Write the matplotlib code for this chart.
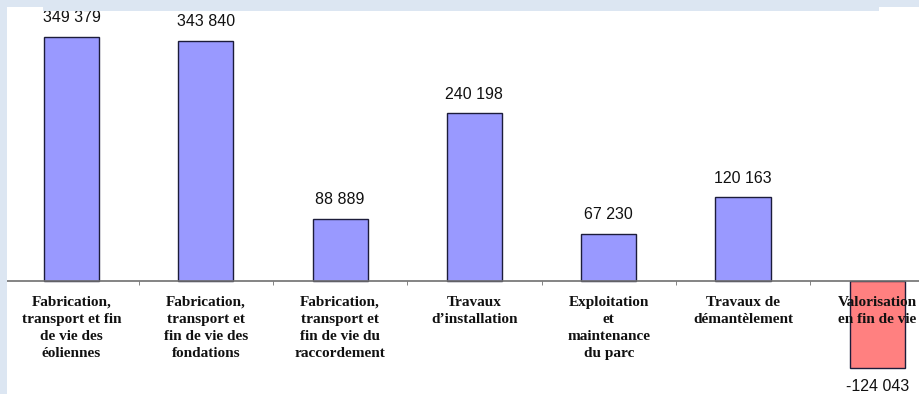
import matplotlib.pyplot as plt
from matplotlib.patches import Rectangle
from matplotlib.ticker import FixedLocator

categories = [
    "Fabrication,\ntransport et fin\nde vie des\néoliennes",
    "Fabrication,\ntransport et\nfin de vie des\nfondations",
    "Fabrication,\ntransport et\nfin de vie du\nraccordement",
    "Travaux\nd\u2019installation",
    "Exploitation\net\nmaintenance\ndu parc",
    "Travaux de\ndémantèlement",
    "Valorisation\nen fin de vie",
]
values = [349379, 343840, 88889, 240198, 67230, 120163, -124043]
value_labels = ["349 379", "343 840", "88 889", "240 198", "67 230", "120 163", "-124 043"]

W, H = 919, 394
fig = plt.figure(figsize=(W / 100, H / 100), dpi=100, facecolor="white")

# layout in pixels: zero line at y=281, 1432 units per pixel, category step 134.3 px
zero_px = 281
per_px = 1432
step = 134.3
x0 = 71.5
left_px = x0 - step / 2
ax = fig.add_axes([left_px / W, 0, 7 * step / W, 1])
ax.set_facecolor("none")
ax.set_xlim(-0.5, 6.5)
ax.set_ylim(-(H - zero_px) * per_px, zero_px * per_px)

colors = ["#9999ff"] * 6 + ["#ff8080"]
pos = list(range(len(values)))
ax.bar(pos, values, width=0.41, color=colors, edgecolor="#1c1c3a", linewidth=1.0, zorder=1)

for x, v, lab in zip(pos, values, value_labels):
    if v >= 0:
        ax.annotate(lab, (x, v), xytext=(0, 10.5), textcoords="offset points",
                    ha="center", va="baseline", fontsize=11.5,
                    family="Liberation Sans", color="#111111")
    else:
        ax.annotate(lab, (x, v), xytext=(0, -8), textcoords="offset points",
                    ha="center", va="top", fontsize=11.5,
                    family="Liberation Sans", color="#111111")

for s in ["top", "right", "left"]:
    ax.spines[s].set_visible(False)
ax.spines["bottom"].set_position(("data", 0))
ax.spines["bottom"].set_color("#707070")
ax.spines["bottom"].set_linewidth(1.2)
ax.set_yticks([])

ax.set_xticks(pos)
ax.set_xticklabels(categories, fontsize=11, family="Liberation Serif",
                   fontweight="bold", linespacing=1.4, color="#111111")
ax.xaxis.set_minor_locator(FixedLocator([p + 0.5 for p in pos[:-1]]))
ax.tick_params(axis="x", which="major", length=0, pad=10.5)
ax.tick_params(axis="x", which="minor", length=3, direction="out", color="#707070")

# light blue frame of the screenshot
band = "#dce6f2"
for x, y, w, h in [(0, 0, 7, H), (0, 0, W, 7), (43, 7, 879 - 43, 4)]:
    fig.add_artist(Rectangle((x / W, 1 - (y + h) / H), w / W, h / H,
                             transform=fig.transFigure, color=band, zorder=10, lw=0))

fig.savefig("out.png", dpi=100)
